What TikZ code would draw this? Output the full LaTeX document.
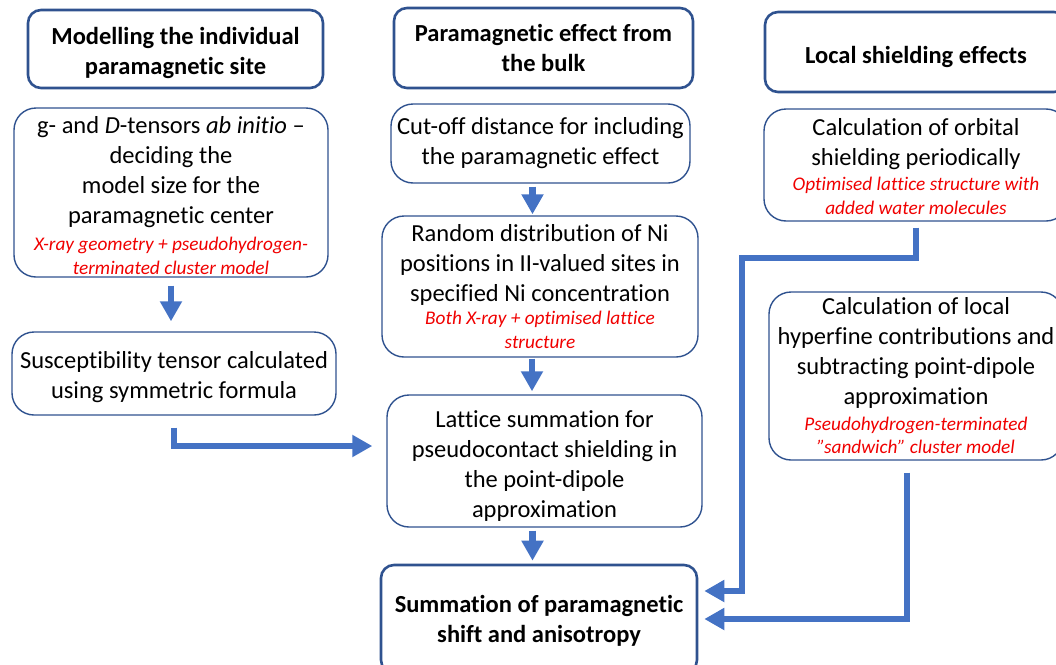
\documentclass[tikz,border=0pt]{standalone}
\usepackage{fontspec}
\setmainfont{Carlito}[Ligatures={NoCommon}]
\usepackage{xcolor}
\usetikzlibrary{positioning, arrows.meta}
\definecolor{boxblue}{HTML}{2F528F}
\definecolor{flowblue}{HTML}{4472C4}
\definecolor{notered}{HTML}{F00000}
\newcommand{\redtext}[2][2pt]{\par\vspace{#1}{\color{notered}\itshape\fontsize{19.3}{23.5}\selectfont #2\par}}
\newcommand{\toppad}[1]{\rule{0pt}{\dimexpr\fontcharht\font`\d+#1\relax}}

\begin{document}
\begin{tikzpicture}[x=1pt,y=-1pt]
    % Define the styles for the boxes and the thick arrows
    \tikzstyle{headbox}=[draw=boxblue, line width=2.6pt, rounded corners=13pt, align=flush center, inner sep=2pt, font=\bfseries\fontsize{24.5}{29.5}\selectfont];
    \tikzstyle{stepbox}=[draw=boxblue, line width=1.4pt, rounded corners=22pt, align=flush center, inner sep=2pt, font=\fontsize{24.5}{30}\selectfont];
    \tikzstyle{flow}=[draw=flowblue, line width=6.5pt, -{Triangle[length=20pt, width=21pt]}];

    % Fix the size of the picture
    \path[use as bounding box, clip] (0,0) rectangle (1056,664);

    % First column: the single paramagnetic site
    \node[headbox, text width=291pt, minimum height=78pt] (site) at (175.5,49) {\toppad{8pt}Modelling the individual\\ paramagnetic site};
    \node[stepbox, text width=310pt, minimum height=169pt] (tensors) at (171,192.5) {\toppad{6pt}g- and \textit{D}-tensors \textit{ab initio} –\\ deciding the\\ model size for the\\ paramagnetic center\redtext[4pt]{X-ray geometry + pseudohydrogen-\\ terminated cluster model}};
    \node[stepbox, text width=320pt, minimum height=83pt] (suscept) at (174,373.5) {\toppad{8pt}Susceptibility tensor calculated\\ using symmetric formula};

    % Second column: the bulk
    \node[headbox, text width=295pt, minimum height=80pt] (bulk) at (543.5,48) {Paramagnetic effect from\\ the bulk};
    \node[stepbox, text width=295pt, minimum height=79pt] (cutoff) at (540.5,143.5) {Cut-off distance for including\\ the paramagnetic effect};
    \node[stepbox, text width=312pt, minimum height=141pt] (random) at (540,286.5) {Random distribution of Ni\\ positions in II-valued sites in\\ specified Ni concentration\redtext[0pt]{Both X-ray + optimised lattice\\ structure}};
    \node[stepbox, text width=311pt, minimum height=132pt] (lattice) at (544.5,461) {\toppad{9pt}Lattice summation for\\ pseudocontact shielding in\\ the point-dipole\\ approximation};
    \node[headbox, text width=312pt, minimum height=108pt] (total) at (539,619) {\toppad{4pt}Summation of paramagnetic\\ shift and anisotropy};

    % Third column: local shielding
    \node[headbox, text width=298pt, minimum height=80pt] (local) at (916,52) {\toppad{10pt}Local shielding effects};
    \node[stepbox, text width=300pt, minimum height=112pt] (orbital) at (916,165) {\toppad{3pt}Calculation of orbital\\ shielding periodically\redtext{Optimised lattice structure with\\ added water molecules}};
    \node[stepbox, text width=290pt, minimum height=168pt] (hyperfine) at (916,376) {Calculation of local\\ hyperfine contributions and\\ subtracting point-dipole\\ approximation\redtext{Pseudohydrogen-terminated\\ ”sandwich” cluster model}};

    % Arrows of the first two columns
    \draw[flow, shorten <=8pt, shorten >=10pt] (tensors.south) -- (tensors.south |- suscept.north);
    \draw[flow, shorten <=12pt, shorten >=14pt] (suscept.south) |- ([yshift=15pt]lattice.west);
    \draw[flow, shorten <=3pt, shorten >=1pt] ([xshift=-8pt]cutoff.south) -- ([xshift=-8pt]cutoff.south |- random.north);
    \draw[flow, shorten <=1pt, shorten >=3pt] ([xshift=-8pt]random.south) -- ([xshift=-8pt]random.south |- lattice.north);
    \draw[flow, shorten <=3pt, shorten >=3pt] ([xshift=-12pt]lattice.south) -- ([xshift=-12pt]lattice.south |- total.north);

    % Arrows from the local shielding boxes
    \coordinate (bend) at (742,258);
    \draw[flow, shorten <=6pt, shorten >=6pt] (orbital.south) |- (bend) |- ([yshift=28pt]total.east);
    \draw[flow, shorten <=12pt, shorten >=6pt] ([xshift=-9pt]hyperfine.south) |- (total.east);
\end{tikzpicture}
\end{document}
